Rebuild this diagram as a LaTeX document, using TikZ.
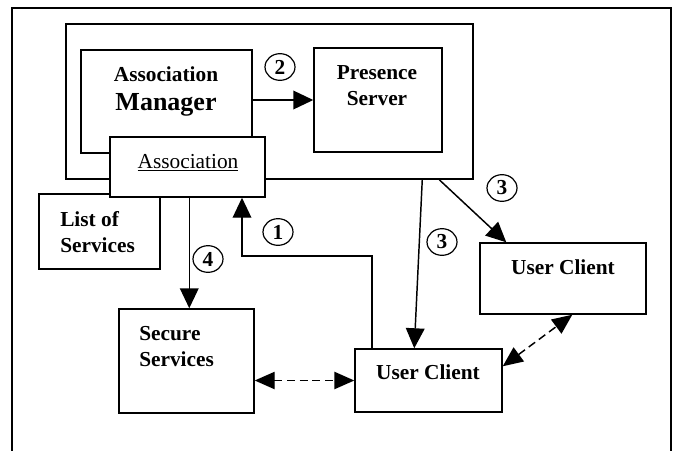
\documentclass[tikz,border=0pt]{standalone}
\usepackage{fontspec}
\setmainfont{Liberation Serif}
\usetikzlibrary{arrows.meta,shapes.geometric,fit,calc}

\tikzset{
  box/.style={draw, line width=1.1pt, inner sep=0pt},
  lbl/.style={font=\bfseries\fontsize{16}{19.5}\selectfont, inner sep=0pt},
  num/.style={draw, ellipse, line width=0.9pt, minimum width=22.5pt, minimum height=20pt,
    inner sep=0pt, font=\bfseries\fontsize{16}{19}\selectfont},
  arr/.style={line width=1.1pt, -{Triangle[length=15pt,width=14pt]}},
  darr/.style={line width=1.1pt, dash pattern=on 6pt off 3.5pt,
    {Triangle[length=15pt,width=13pt]}-{Triangle[length=15pt,width=13pt]}},
}

\begin{document}
\begin{tikzpicture}[x=0.75pt,y=0.75pt,yscale=-1,xscale=1]
        \useasboundingbox (0,0) rectangle (673,450);
        \clip (0,0) rectangle (673,450);
        %Frame, open at the bottom
        \draw [line width=1.1pt] (12,470) -- (12,8) -- (671,8) -- (671,470) ;
        %Shape: Rectangle [server side]
        \node [box, fit={(66,24) (473,179)}] (core) {} ;
        %Shape: Rectangle [manager]
        \node [box, fit={(81,50) (252,153)}] (am) {} ;
        %Shape: Rectangle [presence]
        \node [box, fit={(314,48) (442,152)}] (ps) {} ;
        %Shape: Rectangle [list]
        \node [box, fit={(39,194) (160,269)}] (list) {} ;
        %Shape: Rectangle [association, on top]
        \node [box, fill=white, fit={(110,137) (265,197)}] (assoc) {} ;
        %Shape: Rectangle [services]
        \node [box, fit={(119,309) (254,413)}] (sec) {} ;
        %Shape: Rectangle [clients]
        \node [box, fit={(355,349) (502,412)}] (ucl) {} ;
        \node [box, fit={(480,243) (646,314)}] (ucr) {} ;

        % Text Node (base = last line)
        \node [lbl, align=center, anchor=base] (amtext) at (166,110)
            {Association\\[2pt]{\fontsize{19.5}{22}\selectfont Manager}} ;
        % Text Node
        \node [lbl, align=center, anchor=base] (pstext) at (377,105) {Presence\\Server} ;
        % Text Node
        \node [lbl, font=\mdseries\fontsize{16}{19}\selectfont, anchor=base] (astext) at (188,168)
            {\underline{Association}} ;
        % Text Node
        \node [lbl, align=left, anchor=base west] (listtext) at (60,252) {List of\\Services} ;
        % Text Node
        \node [lbl, align=left, anchor=base west] (sectext) at (139,366) {Secure\\Services} ;
        % Text Node
        \node [lbl, anchor=base] (ucltext) at (428,379) {User Client} ;
        \node [lbl, anchor=base] (ucrtext) at (563,274) {User Client} ;

        %Numbered steps
        \node [num] (n1) at (278,232) {1} ;
        \node [num] (n2) at (280,67) {2} ;
        \node [num] (n3a) at (442,242) {3} ;
        \node [num] (n3b) at (502,188) {3} ;
        \node [num] (n4) at (208,259) {4} ;

        %Straight Lines [1]
        \coordinate (k1) at (372,256) ;
        \coordinate (k2) at (242,256) ;
        \draw [arr] (ucl.north -| k1) -- (k1) -- (k2) -- (assoc.south -| k2) ;
        %Straight Lines [2]
        \draw [arr] (am.east |- ps.west) -- (ps.west) ;
        %Straight Lines [3]
        \draw [arr] ($(core.south west)+(357,0)$) -- ($(ucl.north west)+(60,0)$) ;
        \draw [arr] ($(core.south west)+(374,0)$) -- ($(ucr.north west)+(27,0)$) ;
        %Straight Lines [4]
        \draw [arr] ($(assoc.south west)+(80,0)$) -- ($(sec.north west)+(71,0)$) ;
        %Dashed Lines
        \draw [darr] (sec.east |- ucl.west) -- (ucl.west) ;
        \draw [darr] ($(ucl.north east)+(0,18)$) -- ($(ucr.south west)+(93,0)$) ;
\end{tikzpicture}
\end{document}
